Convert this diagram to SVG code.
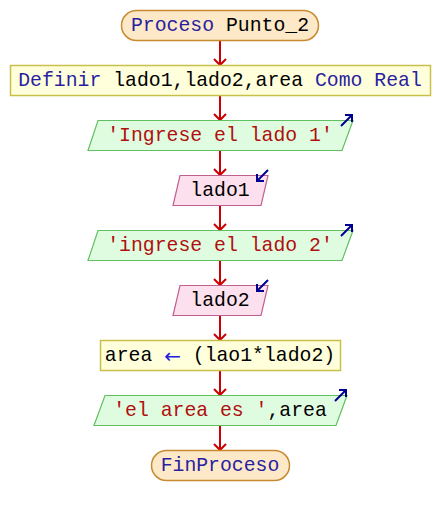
<svg xmlns="http://www.w3.org/2000/svg" width="440" height="515" viewBox="0 0 440 515">
  <defs>
    <style>
      text { font-family: "Liberation Mono", "Courier New", monospace; font-size: 19.8px; dominant-baseline: central; text-anchor: middle; }
      .kw { fill: #2a1fa0; }
      .str { fill: #b01010; }
      .var { fill: #000000; }
      .op { fill: #2020e0; font-family: "DejaVu Sans", sans-serif; font-size: 20px; }
      .term { fill: #fde8c8; stroke: #c88a30; stroke-width: 1.5; }
      .proc { fill: #ffffdc; stroke: #c8c048; stroke-width: 1.5; }
      .out { fill: #e0fce0; stroke: #60c060; stroke-width: 1.2; }
      .in { fill: #fde0ee; stroke: #c06090; stroke-width: 1.2; }
      .flow { stroke: #cc0000; stroke-width: 2; fill: none; }
      .io { stroke: #000090; stroke-width: 2; fill: none; }
    </style>
    <marker id="ah" markerWidth="12" markerHeight="14" refX="7" refY="7" orient="auto" markerUnits="userSpaceOnUse" viewBox="0 0 12 14">
      <path d="M1,1 L7,7 L1,13" fill="none" stroke="#cc0000" stroke-width="2"/>
    </marker>
  </defs>

  <g id="connectors">
    <line class="flow" x1="220" y1="40" x2="220" y2="65" marker-end="url(#ah)"/>
    <line class="flow" x1="220" y1="95" x2="220" y2="120" marker-end="url(#ah)"/>
    <line class="flow" x1="220" y1="150" x2="220" y2="175" marker-end="url(#ah)"/>
    <line class="flow" x1="220" y1="205" x2="220" y2="230" marker-end="url(#ah)"/>
    <line class="flow" x1="220" y1="260" x2="220" y2="285" marker-end="url(#ah)"/>
    <line class="flow" x1="220" y1="315" x2="220" y2="340" marker-end="url(#ah)"/>
    <line class="flow" x1="220" y1="370" x2="220" y2="395" marker-end="url(#ah)"/>
    <line class="flow" x1="220" y1="425" x2="220" y2="450" marker-end="url(#ah)"/>
  </g>

  <g id="inicio">
    <rect class="term" x="121.5" y="10.5" width="197" height="30" rx="15" ry="15"/>
    <text x="220" y="25.5"><tspan class="kw">Proceso</tspan><tspan class="var"> Punto_2</tspan></text>
  </g>

  <g id="definir">
    <rect class="proc" x="10.5" y="65.5" width="420" height="30"/>
    <text x="220" y="80.5"><tspan class="kw">Definir</tspan><tspan class="var"> lado1,lado2,area </tspan><tspan class="kw">Como Real</tspan></text>
  </g>

  <g id="escribir1">
    <polygon class="out" points="98,120.5 353,120.5 342,150.5 88,150.5"/>
    <text x="220" y="135.5" class="str">'Ingrese el lado 1'</text>
    <path class="io" d="M341,126 L352,115 M345,115 L352,115 L352,122"/>
  </g>

  <g id="leer1">
    <polygon class="in" points="180,175.5 268,175.5 261,205.5 173,205.5"/>
    <text x="220" y="190.5" class="var">lado1</text>
    <path class="io" d="M268,170 L257,181 M257,174 L257,181 L264,181"/>
  </g>

  <g id="escribir2">
    <polygon class="out" points="98,230.5 353,230.5 342,260.5 88,260.5"/>
    <text x="220" y="245.5" class="str">'ingrese el lado 2'</text>
    <path class="io" d="M341,236 L352,225 M345,225 L352,225 L352,232"/>
  </g>

  <g id="leer2">
    <polygon class="in" points="180,285.5 268,285.5 261,315.5 173,315.5"/>
    <text x="220" y="300.5" class="var">lado2</text>
    <path class="io" d="M268,280 L257,291 M257,284 L257,291 L264,291"/>
  </g>

  <g id="asignar">
    <rect class="proc" x="100.5" y="340.5" width="240" height="30"/>
    <text x="220" y="355.5"><tspan class="var">area </tspan><tspan class="op">←</tspan><tspan class="var"> (lao1*lado2)</tspan></text>
  </g>

  <g id="escribir3">
    <polygon class="out" points="105,395.5 347,395.5 336,425.5 94,425.5"/>
    <text x="220" y="410.5"><tspan class="str">'el area es '</tspan><tspan class="var">,area</tspan></text>
    <path class="io" d="M335,401 L346,390 M339,390 L346,390 L346,397"/>
  </g>

  <g id="fin">
    <rect class="term" x="151.5" y="450.5" width="138" height="30" rx="15" ry="15"/>
    <text x="220" y="465.5" class="kw">FinProceso</text>
  </g>
</svg>
